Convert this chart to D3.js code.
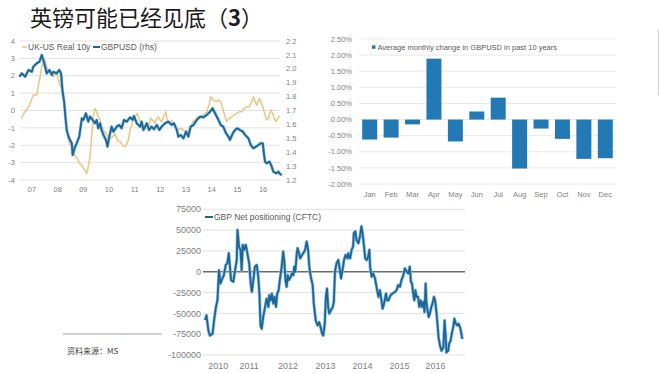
<!DOCTYPE html>
<html>
<head>
<meta charset="utf-8">
<script src="https://cdn.jsdelivr.net/npm/d3@7"></script>
<style>
	body { margin: 0; background: #fff; }
	svg { display: block; }
	text { font-family: "Liberation Sans", Arial, sans-serif; }
</style>
</head>
<body>
<svg id="chart" width="659" height="373"></svg>
<script>
// ---- data ----
// UK-US real 10y spread (left axis), [decimal year, value]
var realYield = [
	[2007.07,-0.45],[2007.23,-0.07],[2007.40,0.31],[2007.55,0.89],[2007.68,0.89],[2007.79,1.75],
	[2007.88,2.52],[2007.94,2.81],[2008.01,2.91],[2008.07,2.52],[2008.20,2.14],[2008.33,1.95],
	[2008.46,2.14],[2008.53,1.75],[2008.59,1.47],[2008.66,1.27],[2008.72,0.79],[2008.79,-0.17],
	[2008.85,-1.12],[2008.92,-1.70],[2008.98,-1.99],[2009.05,-1.80],[2009.11,-2.28],[2009.18,-2.66],
	[2009.27,-2.76],[2009.34,-3.04],[2009.44,-3.14],[2009.50,-3.33],[2009.56,-3.43],[2009.63,-3.62],
	[2009.69,-3.24],[2009.76,-2.66],[2009.82,-1.51],[2009.89,-0.36],[2009.95,0.12],[2010.02,-0.07],
	[2010.08,-0.36],[2010.15,-0.55],[2010.21,-0.93],[2010.28,-1.12],[2010.38,-1.32],[2010.47,-1.51],
	[2010.54,-1.60],[2010.64,-1.51],[2010.73,-1.32],[2010.82,-1.70],[2010.93,-1.80],[2011.03,-1.99],
	[2011.08,-2.08],[2011.16,-2.05],[2011.25,-1.70],[2011.32,-1.12],[2011.38,-0.84],[2011.45,-0.55],
	[2011.51,-0.36],[2011.60,-0.17],[2011.68,-0.55],[2011.77,-0.74],[2011.86,-0.93],[2011.97,-1.03],
	[2012.07,-0.84],[2012.12,-0.45],[2012.20,-0.55],[2012.29,-0.74],[2012.36,-0.45],[2012.42,-0.36],
	[2012.49,-0.55],[2012.55,-0.64],[2012.62,-0.36],[2012.71,-0.07],[2012.77,-0.55],[2012.88,-0.74],
	[2012.94,-0.55],[2013.01,-0.84],[2013.11,-0.93],[2013.20,-1.12],[2013.29,-1.03],[2013.40,-1.12],
	[2013.50,-1.32],[2013.59,-1.12],[2013.68,-1.03],[2013.76,-0.64],[2013.85,-0.55],[2013.94,-0.36],
	[2014.02,-0.45],[2014.11,-0.26],[2014.20,-0.26],[2014.31,-0.07],[2014.41,0.41],[2014.46,0.79],
	[2014.56,0.60],[2014.67,0.51],[2014.76,0.60],[2014.85,0.51],[2014.93,0.12],[2015.02,-0.36],
	[2015.08,-0.64],[2015.19,-0.45],[2015.28,-0.36],[2015.37,-0.26],[2015.47,-0.17],[2015.58,-0.07],
	[2015.67,-0.07],[2015.76,0.12],[2015.86,0.22],[2015.97,0.22],[2016.06,0.51],[2016.12,0.79],
	[2016.19,0.51],[2016.25,0.31],[2016.36,0.70],[2016.41,0.51],[2016.49,0.22],[2016.58,-0.26],
	[2016.64,-0.55],[2016.71,-0.45],[2016.80,0.03],[2016.88,-0.17],[2016.93,-0.45],[2017.01,-0.64],
	[2017.10,-0.40],[2017.16,-0.32]
];

// GBPUSD (right axis), [decimal year, value]
var gbpusd = [
	[2007.01,1.943],[2007.10,1.967],[2007.23,1.943],[2007.36,1.991],[2007.49,1.979],[2007.55,2.015],
	[2007.68,2.039],[2007.79,2.051],[2007.88,2.099],[2007.94,2.063],[2008.01,2.015],[2008.07,1.967],
	[2008.18,1.991],[2008.27,1.955],[2008.33,1.979],[2008.46,1.967],[2008.56,1.991],[2008.63,1.967],
	[2008.69,1.835],[2008.75,1.764],[2008.80,1.656],[2008.85,1.560],[2008.92,1.512],[2008.98,1.488],
	[2009.05,1.464],[2009.08,1.380],[2009.18,1.440],[2009.24,1.464],[2009.34,1.512],[2009.44,1.644],
	[2009.50,1.632],[2009.60,1.680],[2009.69,1.620],[2009.76,1.656],[2009.86,1.632],[2009.95,1.608],
	[2010.02,1.632],[2010.08,1.572],[2010.15,1.608],[2010.21,1.560],[2010.28,1.524],[2010.38,1.488],
	[2010.44,1.440],[2010.51,1.512],[2010.60,1.584],[2010.67,1.548],[2010.80,1.584],[2010.90,1.596],
	[2010.99,1.572],[2011.08,1.632],[2011.19,1.620],[2011.32,1.651],[2011.42,1.632],[2011.47,1.660],
	[2011.58,1.608],[2011.71,1.584],[2011.77,1.620],[2011.84,1.560],[2011.97,1.608],[2012.06,1.560],
	[2012.16,1.584],[2012.25,1.565],[2012.36,1.596],[2012.46,1.560],[2012.55,1.584],[2012.68,1.608],
	[2012.81,1.620],[2012.94,1.596],[2013.03,1.608],[2013.14,1.560],[2013.20,1.512],[2013.29,1.524],
	[2013.40,1.500],[2013.50,1.548],[2013.59,1.512],[2013.68,1.584],[2013.79,1.596],[2013.92,1.632],
	[2014.05,1.656],[2014.18,1.651],[2014.31,1.668],[2014.44,1.692],[2014.53,1.716],[2014.63,1.680],
	[2014.76,1.632],[2014.85,1.596],[2014.95,1.584],[2015.06,1.536],[2015.15,1.512],[2015.21,1.488],
	[2015.32,1.536],[2015.41,1.560],[2015.50,1.572],[2015.60,1.560],[2015.71,1.548],[2015.80,1.524],
	[2015.93,1.500],[2016.02,1.452],[2016.12,1.428],[2016.23,1.440],[2016.32,1.452],[2016.41,1.464],
	[2016.49,1.464],[2016.54,1.380],[2016.58,1.332],[2016.64,1.320],[2016.75,1.332],[2016.84,1.296],
	[2016.90,1.260],[2017.01,1.248],[2017.10,1.260],[2017.16,1.243],[2017.23,1.236]
];
var yearLabels = ["07","08","09","10","11","12","13","14","15","16"];

// average monthly change in GBPUSD, %
var months = ["Jan","Feb","Mar","Apr","May","Jun","Jul","Aug","Sep","Oct","Nov","Dec"];
var monthChange = [-0.62,-0.56,-0.15,1.89,-0.68,0.25,0.68,-1.52,-0.28,-0.60,-1.22,-1.20];

// GBP net positioning (CFTC), [decimal year, contracts]
var cftc = [
	[2010.00,-58000],[2010.04,-52400],[2010.09,-70600],[2010.13,-76600],[2010.20,-74600],[2010.24,-58500],
	[2010.29,-42300],[2010.33,-34300],[2010.37,2000],[2010.41,-14100],[2010.46,-8100],[2010.50,-4000],
	[2010.55,8100],[2010.59,10100],[2010.63,22200],[2010.66,6000],[2010.69,-10100],[2010.75,-12100],
	[2010.79,0],[2010.84,14100],[2010.86,50400],[2010.90,30200],[2010.94,26200],[2010.97,2000],
	[2011.00,32300],[2011.03,26200],[2011.08,32300],[2011.12,22200],[2011.17,10100],[2011.21,-14100],
	[2011.24,-24200],[2011.28,-10100],[2011.32,6000],[2011.37,8100],[2011.41,-6000],[2011.44,-26200],
	[2011.47,-64500],[2011.50,-68500],[2011.54,-54400],[2011.59,-42300],[2011.63,-32300],[2011.68,-42300],
	[2011.70,-28200],[2011.74,-34300],[2011.77,-26200],[2011.81,-38300],[2011.84,-30200],[2011.88,-42300],
	[2011.91,-26200],[2011.95,-22200],[2011.98,-10100],[2012.03,6000],[2012.07,24200],[2012.10,12100],
	[2012.13,-10100],[2012.16,-18100],[2012.19,-4000],[2012.22,-10100],[2012.27,-6000],[2012.30,-2000],
	[2012.34,-4000],[2012.36,6000],[2012.39,0],[2012.43,22200],[2012.45,28200],[2012.49,22200],
	[2012.52,16100],[2012.57,20200],[2012.60,22200],[2012.65,26200],[2012.69,36300],[2012.73,26200],
	[2012.76,6000],[2012.80,-6000],[2012.85,-16100],[2012.88,-38300],[2012.93,-58500],[2012.98,-64500],
	[2013.02,-60500],[2013.06,-66500],[2013.10,-74600],[2013.13,-76600],[2013.17,-62500],[2013.20,-30200],
	[2013.23,-20200],[2013.26,-42300],[2013.29,-50400],[2013.33,-46400],[2013.38,-42300],[2013.41,-36300],
	[2013.44,0],[2013.48,10100],[2013.53,14100],[2013.57,2000],[2013.60,-8100],[2013.64,2000],
	[2013.68,14100],[2013.72,20200],[2013.77,16100],[2013.79,22200],[2013.84,16100],[2013.88,26200],
	[2013.92,30200],[2013.94,46400],[2013.98,48400],[2014.01,38300],[2014.06,34300],[2014.10,42300],
	[2014.14,54400],[2014.17,46400],[2014.21,30200],[2014.24,16100],[2014.28,14100],[2014.32,18100],
	[2014.35,26200],[2014.37,6000],[2014.41,-6000],[2014.45,-2000],[2014.50,-8100],[2014.54,-18100],
	[2014.59,-30200],[2014.63,-22200],[2014.67,-34300],[2014.70,-44400],[2014.74,-38300],[2014.79,-26200],
	[2014.82,-34300],[2014.86,-34300],[2014.91,-28200],[2014.96,-26200],[2015.03,-24200],[2015.07,-22200],
	[2015.11,-16100],[2015.16,-18100],[2015.20,-10100],[2015.25,-4000],[2015.29,4000],[2015.34,0],
	[2015.38,-2000],[2015.42,6000],[2015.45,-12100],[2015.48,-14100],[2015.51,-26200],[2015.54,-34300],
	[2015.57,-22200],[2015.60,-30200],[2015.64,-30200],[2015.67,-42300],[2015.71,-34300],[2015.74,-42300],
	[2015.78,-36300],[2015.81,-48400],[2015.84,-14100],[2015.86,-36300],[2015.89,-46400],[2015.92,-54400],
	[2015.95,-50400],[2015.99,-42300],[2016.02,-38300],[2016.06,-30200],[2016.09,-34300],[2016.13,-50400],
	[2016.16,-66500],[2016.18,-78600],[2016.22,-88700],[2016.26,-94800],[2016.31,-90700],[2016.34,-58500],
	[2016.37,-76600],[2016.39,-96800],[2016.44,-94800],[2016.46,-86700],[2016.50,-82700],[2016.53,-74600],
	[2016.57,-66500],[2016.60,-56400],[2016.64,-62500],[2016.68,-64500],[2016.71,-62500],[2016.75,-66500],
	[2016.77,-70600],[2016.81,-80600]
];
var cftcYears = ["2010","2011","2012","2013","2014","2015","2016"];
var cftcTickAt = [2010.35,2011.17,2012.20,2013.19,2014.17,2015.15,2016.10];
var cftcTicks = [-100000,-75000,-50000,-25000,0,25000,50000,75000];

var svg = d3.select('#chart');
var tickColor = '#7f7f7f', gridColor = '#d9d9d9', legendColor = '#595959';

// title
var title = svg.append('text').attr('x', 30).attr('y', 26)
	.style('font-family', '"Noto Sans CJK SC", sans-serif').style('font-size', '22px').attr('fill', '#1a1a1a');
title.append('tspan').text('英镑可能已经见底（');
title.append('tspan').style('font-weight', 'bold').text('3');
title.append('tspan').text('）');

// ---------- chart 1: real yields vs GBPUSD ----------
var x1 = d3.scaleLinear().domain([2007, 2017.25]).range([19.2, 282.3]);
var yL = d3.scaleLinear().domain([-4, 4]).range([180, 41]);
var yR = d3.scaleLinear().domain([1.2, 2.2]).range([180, 41]);
var g1 = svg.append('g');

g1.selectAll('line.grid').data(yL.ticks(8)).enter().append('line')
	.attr('x1', 20).attr('x2', 280)
	.attr('y1', function (d) { return yL(d); }).attr('y2', function (d) { return yL(d); })
	.attr('stroke', gridColor).attr('stroke-width', 0.8);

g1.selectAll('text.yl').data(yL.ticks(8)).enter().append('text')
	.attr('x', 15).attr('y', function (d) { return yL(d); }).attr('dy', '0.35em')
	.attr('text-anchor', 'end').style('font-size', '7.5px').attr('fill', tickColor)
	.text(function (d) { return d; });

g1.selectAll('text.yr').data(yR.ticks(10)).enter().append('text')
	.attr('x', 286).attr('y', function (d) { return yR(d); }).attr('dy', '0.35em')
	.style('font-size', '7.5px').attr('fill', tickColor)
	.text(d3.format('.1f'));

g1.selectAll('text.xl').data(yearLabels).enter().append('text')
	.attr('x', function (d) { return x1(2000 + (+d) + 0.5); }).attr('y', 192)
	.attr('text-anchor', 'middle').style('font-size', '7.5px').attr('fill', tickColor)
	.text(function (d) { return d; });

g1.append('path').datum(realYield)
	.attr('fill', 'none').attr('stroke', '#ebc581').attr('stroke-width', 1.5).attr('stroke-linejoin', 'round')
	.attr('d', d3.line().x(function (d) { return x1(d[0]); }).y(function (d) { return yL(d[1]); }));

g1.append('path').datum(gbpusd)
	.attr('fill', 'none').attr('stroke', '#8fc0df').attr('stroke-width', 3).attr('stroke-linejoin', 'round')
	.attr('d', d3.line().x(function (d) { return x1(d[0]); }).y(function (d) { return yR(d[1]); }));
g1.append('path').datum(gbpusd)
	.attr('fill', 'none').attr('stroke', '#1b6597').attr('stroke-width', 1.8).attr('stroke-linejoin', 'round')
	.attr('d', d3.line().x(function (d) { return x1(d[0]); }).y(function (d) { return yR(d[1]); }));

// legend
g1.append('line').attr('x1', 22).attr('x2', 27).attr('y1', 47).attr('y2', 47).attr('stroke', '#ebc581').attr('stroke-width', 1.5);
g1.append('text').attr('x', 28).attr('y', 47).attr('dy', '0.35em').style('font-size', '8.5px').attr('fill', legendColor).text('UK-US Real 10y');
g1.append('line').attr('x1', 93).attr('x2', 100).attr('y1', 47).attr('y2', 47).attr('stroke', '#1b6597').attr('stroke-width', 2);
g1.append('text').attr('x', 101).attr('y', 47).attr('dy', '0.35em').style('font-size', '8.5px').attr('fill', legendColor).text('GBPUSD (rhs)');

// ---------- chart 2: seasonality bars ----------
var x2 = d3.scaleBand().domain(months).range([359, 616]).paddingInner(0.3).paddingOuter(0.15);
var y2 = d3.scaleLinear().domain([-2, 2.5]).range([184, 39]);
var g2 = svg.append('g');

g2.selectAll('line.grid').data(y2.ticks(9)).enter().append('line')
	.attr('x1', 359).attr('x2', 616)
	.attr('y1', function (d) { return y2(d); }).attr('y2', function (d) { return y2(d); })
	.attr('stroke', '#e2e2e2').attr('stroke-width', 0.8);

g2.selectAll('text.yl').data(y2.ticks(9)).enter().append('text')
	.attr('x', 352).attr('y', function (d) { return y2(d); }).attr('dy', '0.35em')
	.attr('text-anchor', 'end').style('font-size', '7.5px').attr('fill', tickColor)
	.text(function (d) { return d.toFixed(2) + '%'; });

g2.selectAll('rect.bar').data(monthChange).enter().append('rect')
	.attr('x', function (d, i) { return x2(months[i]); })
	.attr('width', x2.bandwidth())
	.attr('y', function (d) { return y2(Math.max(0, d)); })
	.attr('height', function (d) { return Math.abs(y2(d) - y2(0)); })
	.attr('fill', '#2379b4');

g2.selectAll('text.xl').data(months).enter().append('text')
	.attr('x', function (d) { return x2(d) + x2.bandwidth() / 2; }).attr('y', 197)
	.attr('text-anchor', 'middle').style('font-size', '7.5px').attr('fill', tickColor)
	.text(function (d) { return d; });

g2.append('rect').attr('x', 372).attr('y', 45.3).attr('width', 3.5).attr('height', 3.5).attr('fill', '#2379b4');
g2.append('text').attr('x', 377.5).attr('y', 47).attr('dy', '0.35em').style('font-size', '7.5px').attr('fill', legendColor)
	.text('Average monthly change in GBPUSD in past 10 years');

// ---------- chart 3: CFTC positioning ----------
var x3 = d3.scaleLinear().domain([2010, 2016.81]).range([205, 462.3]);
var y3 = d3.scaleLinear().domain([-100000, 75000]).range([355, 209.3]);
var g3 = svg.append('g');

g3.selectAll('line.grid').data(cftcTicks).enter().append('line')
	.attr('x1', 203).attr('x2', 465)
	.attr('y1', function (d) { return y3(d); }).attr('y2', function (d) { return y3(d); })
	.attr('stroke', function (d) { return d === 0 ? '#6b6b6b' : gridColor; })
	.attr('stroke-width', function (d) { return d === 0 ? 1.4 : 0.8; });

g3.selectAll('text.yl').data(cftcTicks).enter().append('text')
	.attr('x', 201).attr('y', function (d) { return y3(d); }).attr('dy', '0.35em')
	.attr('text-anchor', 'end').style('font-size', '9px').attr('fill', tickColor)
	.text(function (d) { return d; });

g3.selectAll('text.xl').data(cftcYears).enter().append('text')
	.attr('x', function (d, i) { return x3(cftcTickAt[i]); }).attr('y', 369)
	.attr('text-anchor', 'middle').style('font-size', '9px').attr('fill', tickColor)
	.text(function (d) { return d; });

var line3 = d3.line().x(function (d) { return x3(d[0]); }).y(function (d) { return y3(d[1]); });
g3.append('path').datum(cftc).attr('fill', 'none').attr('stroke', '#8fc0df').attr('stroke-width', 3.2)
	.attr('stroke-linejoin', 'round').attr('d', line3);
g3.append('path').datum(cftc).attr('fill', 'none').attr('stroke', '#1b6597').attr('stroke-width', 1.8)
	.attr('stroke-linejoin', 'round').attr('d', line3);

g3.append('line').attr('x1', 205).attr('x2', 213).attr('y1', 217).attr('y2', 217).attr('stroke', '#1b6597').attr('stroke-width', 2);
g3.append('text').attr('x', 214).attr('y', 217).attr('dy', '0.35em').style('font-size', '8.5px').attr('fill', legendColor)
	.text('GBP Net positioning (CFTC)');

// source note and stray rules
svg.append('line').attr('x1', 63).attr('x2', 162).attr('y1', 334).attr('y2', 334).attr('stroke', '#8a8a8a').attr('stroke-width', 0.8);
svg.append('text').attr('x', 67).attr('y', 354)
	.style('font-family', '"Noto Sans CJK SC", sans-serif').style('font-size', '8px').attr('fill', '#444')
	.text('资料来源：MS');
svg.append('line').attr('x1', 658.5).attr('x2', 658.5).attr('y1', 30).attr('y2', 95).attr('stroke', '#d0d0d0');
</script>
</body>
</html>
